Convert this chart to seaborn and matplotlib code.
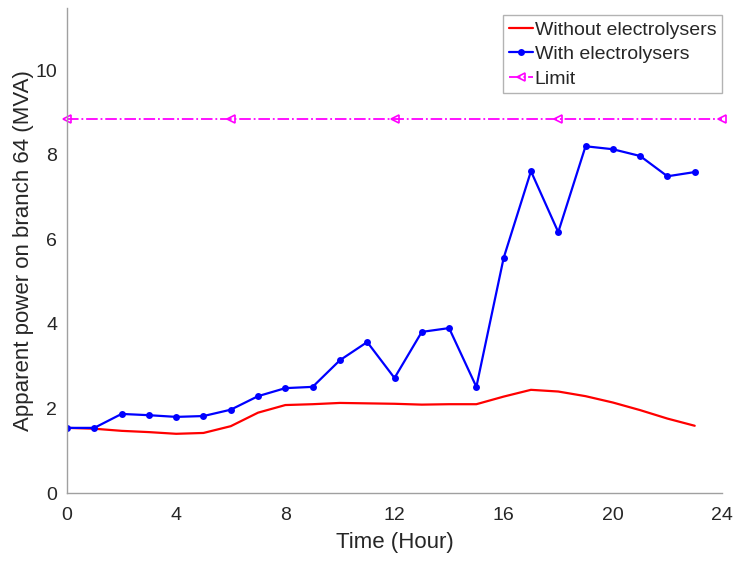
import matplotlib
matplotlib.use("Agg")
import matplotlib.pyplot as plt
import seaborn as sns
import pandas as pd

hours = list(range(24))
without_elec = [1.54, 1.52, 1.47, 1.44, 1.40, 1.42, 1.58, 1.90, 2.08, 2.10, 2.13, 2.12,
                2.11, 2.09, 2.10, 2.10, 2.28, 2.44, 2.40, 2.29, 2.14, 1.96, 1.76, 1.59]
with_elec = [1.54, 1.54, 1.87, 1.84, 1.80, 1.82, 1.97, 2.29, 2.48, 2.51, 3.14, 3.57,
             2.72, 3.81, 3.90, 2.51, 5.56, 7.61, 6.17, 8.20, 8.13, 7.97, 7.49, 7.59]
limit_hours = list(range(25))
limit_value = 8.84
limit_vals = [limit_value] * len(limit_hours)

sns.set_style("white")
plt.rcParams['font.family'] = ['Liberation Sans', 'DejaVu Sans']

fig = plt.figure(figsize=(7.35, 5.61), dpi=100)
ax = fig.add_axes([67/735, 68/561, 655/735, 485/561])

df1 = pd.DataFrame({"x": hours, "y": without_elec})
df2 = pd.DataFrame({"x": hours, "y": with_elec})
df3 = pd.DataFrame({"x": limit_hours, "y": limit_vals})

sns.lineplot(data=df1, x="x", y="y", ax=ax, color="#ff0000", lw=1.6,
             label="Without electrolysers")
sns.lineplot(data=df2, x="x", y="y", ax=ax, color="#0000ff", lw=1.6, marker="o",
             markersize=5, markeredgewidth=0, label="With electrolysers")
sns.lineplot(data=df3, x="x", y="y", ax=ax, color="#ff00ff", lw=1.3, ls="-.",
             marker="<", markersize=6, markerfacecolor="none", markeredgecolor="#ff00ff",
             markeredgewidth=1.2, markevery=6, label="Limit", clip_on=False)

ax.set_xlim(0, 24)
ax.set_ylim(0, 11.47)
ax.set_xticks([0, 4, 8, 12, 16, 20, 24])
ax.set_yticks([0, 2, 4, 6, 8, 10])
ax.set_xlabel("Time (Hour)", fontsize=16, color="#262626", labelpad=6)
ax.set_ylabel("Apparent power on branch 64 (MVA)", fontsize=16, color="#262626", labelpad=1)

for s in ["top", "right"]:
    ax.spines[s].set_visible(False)
for s in ["left", "bottom"]:
    ax.spines[s].set_color("#a0a0a0")
    ax.spines[s].set_linewidth(1.0)
ax.tick_params(direction="in", length=5, width=0.8, color="#606060",
               labelsize=14, labelcolor="#262626")
ax.tick_params(axis="x", pad=10)
ax.tick_params(axis="y", pad=7)

leg = ax.legend(loc="upper right", bbox_to_anchor=(1.0, 0.985), fontsize=14,
                frameon=True, fancybox=False, handlelength=1.2, handletextpad=0.1,
                borderpad=0.3, labelspacing=0.35, borderaxespad=0.0)
leg.get_frame().set_edgecolor("#a0a0a0")
leg.get_frame().set_linewidth(1.0)

fig.savefig("out.png", dpi=100)
